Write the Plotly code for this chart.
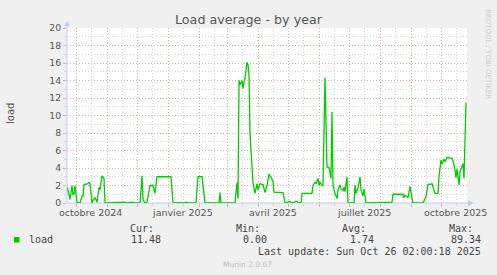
import pandas as pd
import plotly.graph_objects as go

# ---------------- data ----------------
START = "2024-09-21 02:00"
END = "2025-10-26 02:00"

day = [0, 1, 3, 5, 6, 7, 8, 10, 11, 13, 15, 16, 17, 21, 22, 23, 25, 26, 28, 29,
       30, 32, 33, 35, 37, 38, 50, 51, 58, 59, 66, 67, 73, 75, 76, 78, 80, 83, 86, 88,
       90, 104, 106, 115, 116, 120, 121, 129, 131, 135, 138, 152, 153, 154, 168, 170, 171, 172, 173, 175,
       176, 177, 178, 180, 181, 182, 183, 185, 186, 188, 190, 191, 193, 196, 198, 200, 202, 204, 206, 207,
       216, 218, 223, 224, 230, 231, 234, 235, 245, 246, 248, 249, 251, 252, 253, 255, 256, 258, 260, 262,
       264, 265, 266, 268, 270, 271, 273, 274, 276, 277, 278, 280, 281, 287, 288, 289, 291, 293, 294, 296,
       297, 299, 325, 326, 336, 337, 338, 341, 343, 344, 346, 356, 357, 359, 361, 365, 368, 371, 372, 374,
       375, 377, 378, 380, 385, 386, 388, 389, 390, 392, 393, 395, 396, 397, 399]
load = [1.8, 1.5, 0.4, 2.0, 0.9, 1.0, 2.0, 0.1, 0.0, 0.0, 0.8, 0.8, 2.1, 2.2, 2.4, 2.2, 0.0, 0.3, 0.6, 0.3,
        0.1, 1.8, 1.5, 3.1, 2.8, 0.0, 0.05, 0.0, 0.1, 0.0, 0.1, 0.0, 0.0, 3.1, 0.4, 0.0, 0.1, 2.0, 2.0, 1.1,
        3.0, 3.0, 0.0, 0.05, 0.0, 0.1, 0.0, 0.0, 3.0, 3.0, 0.0, 0.0, 1.2, 0.0, 0.0, 2.3, 0.5, 14.0, 13.5, 14.0,
        13.1, 13.8, 14.2, 16.1, 15.8, 14.6, 8.0, 4.1, 2.3, 1.1, 2.2, 1.5, 2.2, 2.1, 1.2, 2.0, 3.3, 2.9, 2.5, 1.25,
        1.2, 0.0, 0.2, 0.0, 0.2, 0.0, 0.0, 1.1, 1.1, 2.0, 2.4, 2.2, 2.8, 2.0, 2.4, 2.0, 2.0, 14.3, 4.1, 4.1,
        2.8, 10.4, 2.0, 1.1, 0.5, 1.5, 2.05, 1.6, 1.4, 1.8, 1.3, 3.0, 0.0, 0.0, 2.05, 1.1, 1.7, 3.0, 1.5, 0.8,
        1.6, 0.0, 0.1, 1.0, 1.0, 0.6, 0.9, 0.6, 1.9, 1.2, 0.0, 0.0, 0.3, 0.7, 2.1, 2.2, 1.1, 1.1, 3.0, 4.9,
        4.45, 5.0, 4.7, 5.2, 5.1, 4.8, 3.8, 2.9, 3.9, 2.05, 3.6, 4.1, 4.5, 2.8, 11.48]

y_ticks = list(range(0, 21, 2))
x_labels = ["octobre 2024", "janvier 2025", "avril 2025", "juillet 2025", "octobre 2025"]
x_label_dates = ["2024-10-15", "2025-01-15", "2025-04-15", "2025-07-15", "2025-10-15"]
series_name = "load"
stats_head = ["Cur:", "Min:", "Avg:", "Max:"]
stats_val = ["11.48", "0.00", "1.74", "89.34"]
last_update = "Last update: Sun Oct 26 02:00:18 2025"
title = "Load average - by year"
y_title = "load"
side_text = "RRDTOOL / TOBI OETIKER"
footer = "Munin 2.0.67"

# ---------------- figure ----------------
x = pd.Timestamp(START) + pd.to_timedelta(day, unit="D")

W, H = 497, 275
L, R, T, B = 67, 467, 28, 203


def px(v):
    return (v - L) / (R - L)


def py(v):
    return (B - v) / (B - T)


GREEN = "#00cc00"
RED = "#e8a8a8"
GRAY = "#d4d4d4"
AX = "#c4caf4"
TXT = "#555555"
SANS = "DejaVu Sans"
MONO = "DejaVu Sans Mono"

fig = go.Figure(go.Scatter(x=x, y=load, mode="lines", name=series_name,
                           line=dict(color=GREEN, width=1.3), hoverinfo="skip"))

month_starts = pd.date_range("2024-10-01", "2025-10-01", freq="MS")
minor_days = pd.date_range("2024-09-01", "2025-10-01", freq="MS") + pd.Timedelta(days=15)

fig.update_layout(
    width=W, height=H,
    margin=dict(l=L, r=W - R, t=T, b=H - B, autoexpand=False),
    paper_bgcolor="#f0f0f0", plot_bgcolor="white",
    showlegend=False,
    xaxis=dict(type="date", range=[START, END], tickvals=month_starts, showticklabels=False,
               showgrid=True, gridcolor=RED, griddash="1px,2px", gridwidth=1,
               ticks="outside", ticklen=3, tickcolor=RED, zeroline=False, showline=False,
               minor=dict(tickvals=minor_days, showgrid=True, gridcolor=GRAY, griddash="1px,2px",
                          ticks="outside", ticklen=2, tickcolor=GRAY)),
    yaxis=dict(range=[0, 20], tickvals=y_ticks, ticktext=[str(v) for v in y_ticks],
               tickfont=dict(family=SANS, size=9.3, color=TXT),
               showgrid=True, gridcolor=RED, griddash="1px,2px", gridwidth=1,
               ticks="outside", ticklen=3, tickcolor=RED, zeroline=False, showline=False,
               minor=dict(dtick=1, showgrid=True, gridcolor=GRAY, griddash="1px,2px",
                          ticks="outside", ticklen=2, tickcolor=GRAY)),
)

ann = []
ann.append(dict(text=title, x=px(248.5), y=py(19), xref="paper", yref="paper",
                xanchor="center", yanchor="middle", showarrow=False,
                font=dict(family=SANS, size=12.7, color=TXT)))
ann.append(dict(text=y_title, x=px(10), y=py(114), xref="paper", yref="paper", textangle=-90,
                xanchor="center", yanchor="middle", showarrow=False,
                font=dict(family=SANS, size=10, color=TXT)))
ann.append(dict(text=side_text, x=px(488), y=py(54), xref="paper", yref="paper", textangle=90,
                xanchor="center", yanchor="middle", showarrow=False,
                font=dict(family=SANS, size=7, color="#cccccc")))
for lab, d in zip(x_labels, x_label_dates):
    ann.append(dict(text=lab, x=d, y=py(212.7), xref="x", yref="paper",
                    xanchor="center", yanchor="middle", showarrow=False,
                    font=dict(family=SANS, size=9.5, color=TXT)))
head_left = [127.7, 234.3, 340.0, 446.7]
val_right = [162.7, 269.3, 376.0, 482.7]
for h, xl in zip(stats_head, head_left):
    ann.append(dict(text=h, x=px(xl), y=py(228), xref="paper", yref="paper",
                    xanchor="left", yanchor="middle", showarrow=False,
                    font=dict(family=MONO, size=10, color="#444444")))
for v, xr in zip(stats_val, val_right):
    ann.append(dict(text=v, x=px(xr), y=py(239.5), xref="paper", yref="paper",
                    xanchor="right", yanchor="middle", showarrow=False,
                    font=dict(family=MONO, size=10, color="#444444")))
ann.append(dict(text=series_name, x=px(26.7), y=py(239.5), xref="paper", yref="paper",
                xanchor="left", yanchor="middle", showarrow=False,
                font=dict(family=MONO, size=10, color="#444444")))
ann.append(dict(text=last_update, x=px(482.7), y=py(251.7), xref="paper", yref="paper",
                xanchor="right", yanchor="middle", showarrow=False,
                font=dict(family=MONO, size=10, color="#444444")))
ann.append(dict(text=footer, x=px(247.7), y=py(264), xref="paper", yref="paper",
                xanchor="center", yanchor="middle", showarrow=False,
                font=dict(family=SANS, size=7.5, color="#bbbbbb")))

shapes = [
    dict(type="line", xref="paper", yref="paper", x0=px(67), x1=px(67), y0=py(203), y1=py(25),
         line=dict(color=AX, width=1), layer="below"),
    dict(type="line", xref="paper", yref="paper", x0=px(67), x1=px(469), y0=py(203), y1=py(203),
         line=dict(color=AX, width=1), layer="below"),
    dict(type="path", xref="paper", yref="paper",
         path=f"M {px(64)} {py(26)} L {px(70)} {py(26)} L {px(67)} {py(21)} Z",
         fillcolor=AX, line=dict(width=0)),
    dict(type="path", xref="paper", yref="paper",
         path=f"M {px(468)} {py(200)} L {px(468)} {py(206)} L {px(474)} {py(203)} Z",
         fillcolor=AX, line=dict(width=0)),
    dict(type="rect", xref="paper", yref="paper", x0=px(14), x1=px(19.5), y0=py(242.5), y1=py(237),
         fillcolor=GREEN, line=dict(width=0)),
]

fig.update_layout(annotations=ann, shapes=shapes)
fig.write_html("out.html")
